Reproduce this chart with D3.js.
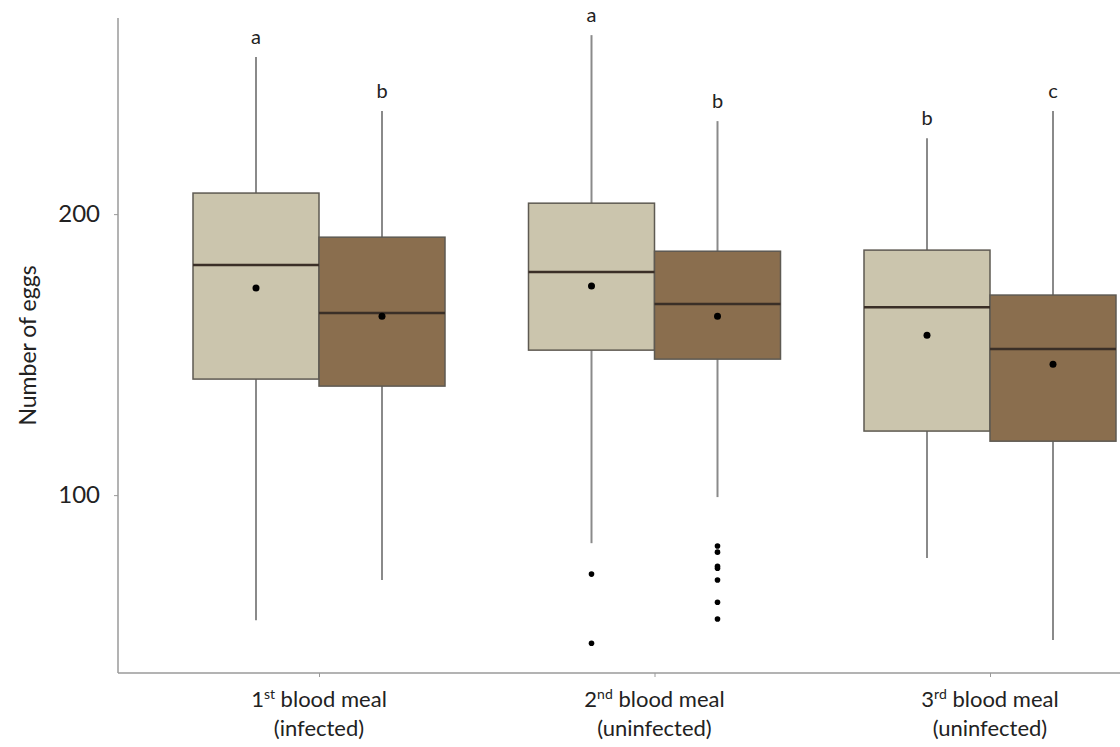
<!DOCTYPE html>
<html>
<head>
<meta charset="utf-8">
<script src="https://cdn.jsdelivr.net/npm/d3@7"></script>
<style>
  body { margin: 0; background: #fff; }
  svg text { font-family: Lato, "Open Sans", sans-serif; fill: #222; }
</style>
</head>
<body>
<div id="chart-container"></div>
<script>
// categories (x axis) – main text, superscript, second line
const categories = ["1st", "2nd", "3rd"];
const catNumber = ["1", "2", "3"];
const catSup = ["st", "nd", "rd"];
const catSub = ["(infected)", "(uninfected)", "(uninfected)"];
const series = ["light", "dark"];

// box statistics per series, one value per category
const lightLow = [55.5, 82.9, 77.6];
const lightQ1 = [141.3, 151.6, 122.8];
const lightMed = [181.9, 179.4, 166.9];
const lightQ3 = [207.5, 203.9, 187.2];
const lightHigh = [255.9, 263.7, 227.0];
const lightMean = [173.7, 174.4, 156.9];
const lightOut = [[], [71.9, 47.3], []];
const lightLetter = ["a", "a", "b"];

const darkLow = [69.8, 99.3, 48.4];
const darkQ1 = [138.8, 148.4, 119.2];
const darkMed = [164.8, 168.0, 152.0];
const darkQ3 = [191.8, 186.8, 171.2];
const darkHigh = [236.7, 233.1, 236.7];
const darkMean = [163.7, 163.7, 146.6];
const darkOut = [[], [81.9, 79.7, 74.7, 74.0, 69.8, 61.9, 55.9], []];
const darkLetter = ["b", "b", "c"];

const yTicks = [100, 200];

const W = 1120, H = 747;
const svg = d3.select("#chart-container").append("svg")
    .attr("width", W).attr("height", H);

const x = d3.scalePoint().domain(categories).range([319, 990]);
const y = d3.scaleLinear().domain([36.7, 269.8]).range([673, 18]);
const boxW = 126;
const colors = { light: "#cbc5ad", dark: "#8a6e4e" };

const boxes = [];
categories.forEach((c, i) => {
    boxes.push({ cat: c, s: "light", off: -boxW / 2, low: lightLow[i], q1: lightQ1[i], med: lightMed[i],
        q3: lightQ3[i], high: lightHigh[i], mean: lightMean[i], out: lightOut[i], letter: lightLetter[i] });
    boxes.push({ cat: c, s: "dark", off: boxW / 2, low: darkLow[i], q1: darkQ1[i], med: darkMed[i],
        q3: darkQ3[i], high: darkHigh[i], mean: darkMean[i], out: darkOut[i], letter: darkLetter[i] });
});

// axes
const yAxis = svg.append("g")
    .attr("transform", "translate(118,0)")
    .call(d3.axisLeft(y).tickValues(yTicks).tickSize(4).tickPadding(14));
yAxis.select(".domain").attr("stroke", "#9a9a9a").attr("stroke-width", 1.5)
    .attr("d", `M0,${y.range()[1]}V${y.range()[0]}`);
yAxis.selectAll(".tick line").attr("stroke", "#9a9a9a");
yAxis.selectAll(".tick text").style("font-size", "24px").attr("fill", "#222");

const xAxis = svg.append("g").attr("transform", "translate(0,673)")
    .call(d3.axisBottom(x).tickSize(4).tickFormat(""));
xAxis.select(".domain").attr("stroke", "#9a9a9a").attr("stroke-width", 1.5)
    .attr("d", `M118,0H${W}`);
xAxis.selectAll(".tick line").attr("stroke", "#9a9a9a");

// x labels
categories.forEach((c, i) => {
    const t = svg.append("text")
        .attr("x", x(c)).attr("y", 707)
        .attr("text-anchor", "middle")
        .style("font-size", "22px");
    t.append("tspan").text(catNumber[i]);
    t.append("tspan").attr("dy", -8).style("font-size", "14px").text(catSup[i]);
    t.append("tspan").attr("dy", 8).text(" blood meal");
    svg.append("text")
        .attr("x", x(c)).attr("y", 736)
        .attr("text-anchor", "middle")
        .style("font-size", "22px")
        .text(catSub[i]);
});

svg.append("text")
    .attr("transform", "rotate(-90)")
    .attr("x", -(y.range()[0] + y.range()[1]) / 2)
    .attr("y", 36)
    .attr("text-anchor", "middle")
    .style("font-size", "23px")
    .text("Number of eggs");

const g = svg.append("g");

// whiskers
g.selectAll(".whisker-hi").data(boxes).enter().append("line")
    .attr("x1", d => x(d.cat) + d.off).attr("x2", d => x(d.cat) + d.off)
    .attr("y1", d => y(d.high)).attr("y2", d => y(d.q3))
    .attr("stroke", "#8a8a8a").attr("stroke-width", 2);
g.selectAll(".whisker-lo").data(boxes).enter().append("line")
    .attr("x1", d => x(d.cat) + d.off).attr("x2", d => x(d.cat) + d.off)
    .attr("y1", d => y(d.q1)).attr("y2", d => y(d.low))
    .attr("stroke", "#8a8a8a").attr("stroke-width", 2);

// boxes
g.selectAll(".box").data(boxes).enter().append("rect")
    .attr("x", d => x(d.cat) + d.off - boxW / 2)
    .attr("width", boxW)
    .attr("y", d => y(d.q3))
    .attr("height", d => y(d.q1) - y(d.q3))
    .attr("fill", d => colors[d.s])
    .attr("stroke", "#5e5a52").attr("stroke-width", 1.5);

// medians
g.selectAll(".median").data(boxes).enter().append("line")
    .attr("x1", d => x(d.cat) + d.off - boxW / 2)
    .attr("x2", d => x(d.cat) + d.off + boxW / 2)
    .attr("y1", d => y(d.med)).attr("y2", d => y(d.med))
    .attr("stroke", "#3a2f27").attr("stroke-width", 2.5);

// means
g.selectAll(".mean").data(boxes).enter().append("circle")
    .attr("cx", d => x(d.cat) + d.off).attr("cy", d => y(d.mean))
    .attr("r", 3.5).attr("fill", "#000");

// outliers
boxes.forEach(d => {
    g.selectAll(null).data(d.out).enter().append("circle")
        .attr("cx", x(d.cat) + d.off).attr("cy", v => y(v))
        .attr("r", 2.8).attr("fill", "#000");
});

// significance letters
g.selectAll(".letter").data(boxes).enter().append("text")
    .attr("x", d => x(d.cat) + d.off)
    .attr("y", d => y(d.high) - 13)
    .attr("text-anchor", "middle")
    .style("font-size", "20px")
    .text(d => d.letter);
</script>
</body>
</html>
